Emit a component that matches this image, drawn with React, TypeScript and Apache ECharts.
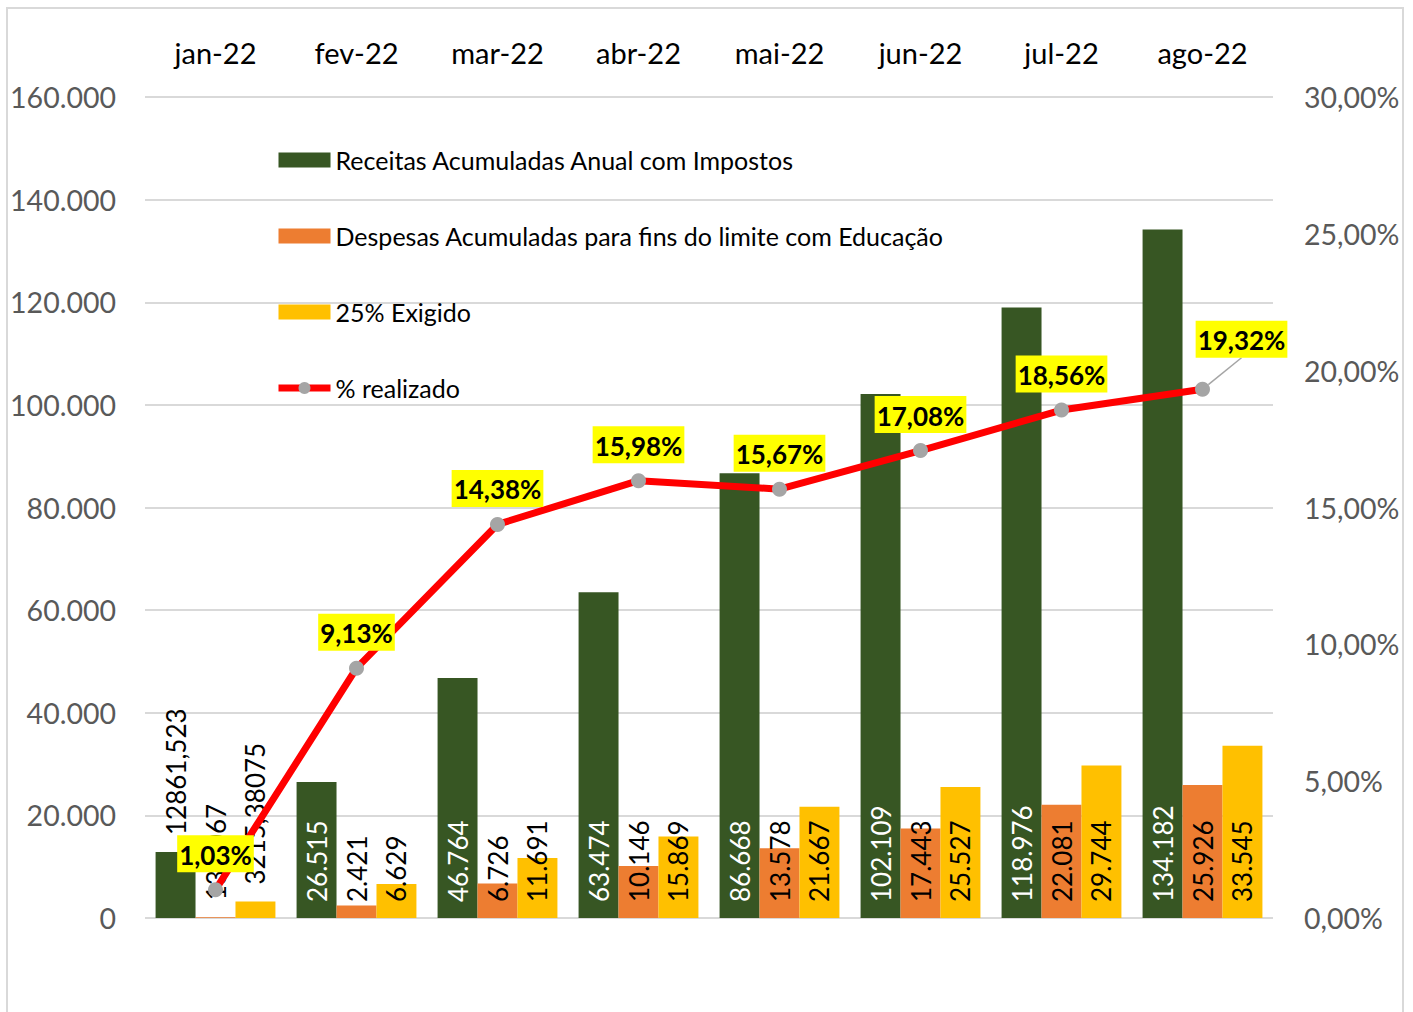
import React, { useEffect, useRef } from "react";
import * as echarts from "echarts";

const categories = ["jan-22", "fev-22", "mar-22", "abr-22", "mai-22", "jun-22", "jul-22", "ago-22"];
const receitas = [12861.523, 26515, 46764, 63474, 86668, 102109, 118976, 134182];
const despesas = [132.067, 2421, 6726, 10146, 13578, 17443, 22081, 25926];
const exigido = [3215.38075, 6629, 11691, 15869, 21667, 25527, 29744, 33545];
const realizado = [1.03, 9.13, 14.38, 15.98, 15.67, 17.08, 18.56, 19.32];
const leftTicks = { min: 0, max: 160000, interval: 20000 };
const rightTicks = { min: 0, max: 30, interval: 5 };

const FONT = "Lato, 'Open Sans', sans-serif";

const thousands = (v: number) => Math.round(v).toString().replace(/\B(?=(\d{3})+(?!\d))/g, ".");
const barLabel = (p: any) =>
  p.dataIndex === 0 ? String(p.value).replace(".", ",") : thousands(p.value);

export default function App() {
  const ref = useRef<HTMLDivElement>(null);
  useEffect(() => {
    if (!ref.current) return;
    const chart = echarts.init(ref.current, null, { renderer: "svg" });
    const mkBar = (name: string, data: number[], color: string, labelColor: string) => ({
      name,
      type: "bar",
      yAxisIndex: 0,
      data: data.map((v, i) =>
        i === 0 ? { value: v, label: { position: "top", color: "#000", distance: 17 } } : v
      ),
      itemStyle: { color },
      barGap: "0%",
      barCategoryGap: "15%",
      label: {
        show: true,
        position: "insideBottom",
        rotate: 90,
        align: "left",
        verticalAlign: "middle",
        distance: 16,
        color: labelColor,
        fontSize: 26,
        fontFamily: FONT,
        overflow: "none",
        formatter: barLabel,
      },
    });
    chart.setOption({
      animation: false,
      backgroundColor: "#ffffff",
      textStyle: { fontFamily: FONT },
      graphic: [
        {
          type: "rect",
          shape: { x: 0, y: 0, width: 1396, height: 1100 },
          x: 7,
          y: 8,
          style: { fill: "none", stroke: "#D9D9D9", lineWidth: 2 },
          silent: true,
          z: -10,
        },
      ],
      legend: {
        orient: "vertical",
        left: 270,
        top: 141,
        itemWidth: 52,
        itemHeight: 15,
        itemGap: 48,
        textStyle: { fontSize: 25, color: "#000", fontFamily: FONT, lineHeight: 28 },
        data: [
          { name: "Receitas Acumuladas Anual com Impostos", icon: "rect" },
          { name: "Despesas Acumuladas para fins do limite com Educação", icon: "rect" },
          { name: "25% Exigido", icon: "rect" },
          { name: "% realizado", lineStyle: { width: 7, color: "#FF0000" } },
        ],
      },
      grid: { left: 145, right: 140, top: 97, bottom: 94, containLabel: false },
      xAxis: {
        type: "category",
        position: "top",
        data: categories,
        axisLine: { show: false },
        axisTick: { show: false },
        axisLabel: { fontSize: 29, color: "#000", margin: 30, fontFamily: FONT },
      },
      yAxis: [
        {
          type: "value",
          ...leftTicks,
          axisLine: { show: false },
          axisTick: { show: false },
          splitLine: { lineStyle: { color: "#D9D9D9", width: 2 } },
          axisLabel: { fontSize: 28.5, color: "#595959", margin: 29, formatter: (v: number) => thousands(v), fontFamily: FONT },
        },
        {
          type: "value",
          ...rightTicks,
          position: "right",
          axisLine: { show: false },
          axisTick: { show: false },
          splitLine: { show: false },
          axisLabel: {
            fontSize: 28.5,
            color: "#595959",
            margin: 31,
            formatter: (v: number) => v.toFixed(2).replace(".", ",") + "%",
            fontFamily: FONT,
          },
        },
      ],
      series: [
        mkBar("Receitas Acumuladas Anual com Impostos", receitas, "#375623", "#ffffff"),
        mkBar("Despesas Acumuladas para fins do limite com Educação", despesas, "#ED7D31", "#000000"),
        mkBar("25% Exigido", exigido, "#FFC000", "#000000"),
        {
          name: "% realizado",
          type: "line",
          yAxisIndex: 1,
          data: realizado.map((v, i) =>
            i === realizado.length - 1 ? { value: v, labelLine: { show: true } } : v
          ),
          z: 5,
          symbol: "circle",
          symbolSize: 15,
          itemStyle: { color: "#A5A5A5" },
          lineStyle: { color: "#FF0000", width: 7 },
          label: {
            show: true,
            position: "top",
            distance: 10,
            fontSize: 26,
            fontWeight: "bold",
            color: "#000",
            backgroundColor: "#FFFF00",
            lineHeight: 31,
            padding: [4, 2, 2, 2],
            fontFamily: FONT,
            formatter: (p: any) => p.value.toFixed(2).replace(".", ",") + "%",
          },
          labelLine: { show: false, lineStyle: { color: "#A5A5A5", width: 1.5 } },
          labelLayout: (p: any) => (p.dataIndex === 7 ? { dx: 39, dy: -14 } : {}),
        },
      ],
    });
    return () => chart.dispose();
  }, []);
  return (
    <div
      ref={ref}
      style={{ position: "absolute", left: 0, top: 0, width: 1413, height: 1012 }}
    />
  );
}
